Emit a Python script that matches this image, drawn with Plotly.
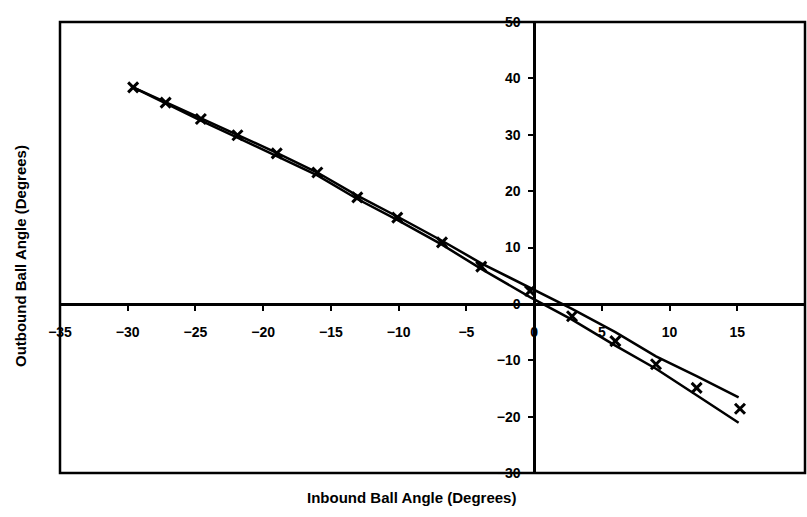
import plotly.graph_objects as go

# Measured data (markers)
meas_x = [-29.6, -27.2, -24.6, -21.9, -19.0, -16.0, -13.05, -10.1, -6.8, -3.9, -0.3, 2.8, 6.0, 9.0, 12.0, 15.2]
meas_y = [38.4, 35.7, 32.8, 29.9, 26.7, 23.3, 18.9, 15.3, 10.9, 6.6, 2.3, -2.2, -6.6, -10.7, -14.9, -18.6]

# Model curves
line_x = [-29.6, -27.2, -24.6, -21.9, -19.0, -16.0, -13.05, -10.1, -6.8, -3.9, -0.3, 2.8, 6.0, 9.0, 12.0, 15.1]
upper_y = [38.4, 35.8, 32.9, 30.0, 26.8, 23.3, 19.2, 15.5, 11.2, 7.2, 2.9, -0.9, -5.0, -9.3, -12.8, -16.6]
lower_y = [38.4, 35.5, 32.5, 29.5, 26.2, 22.8, 18.6, 14.9, 10.5, 6.2, 1.2, -2.8, -7.4, -11.5, -16.2, -21.1]

x_range = [-35, 20]
y_range = [-30, 50]
x_ticks = [-35, -30, -25, -20, -15, -10, -5, 0, 5, 10, 15, 20]
y_ticks = [-30, -20, -10, 0, 10, 20, 30, 40, 50]

x_title = "Inbound Ball Angle (Degrees)"
y_title = "Outbound Ball Angle (Degrees)"

FONT = "Liberation Sans, Arial, sans-serif"

fig = go.Figure()
fig.add_trace(go.Scatter(x=line_x, y=upper_y, mode="lines",
                         line=dict(color="black", width=2.5), showlegend=False))
fig.add_trace(go.Scatter(x=line_x, y=lower_y, mode="lines",
                         line=dict(color="black", width=2.5), showlegend=False))
fig.add_trace(go.Scatter(x=meas_x, y=meas_y, mode="markers",
                         marker=dict(symbol="x-thin", size=10, color="black",
                                     line=dict(color="black", width=3)),
                         showlegend=False))

tickfont = dict(family=FONT, size=14, color="black", weight="bold")

fig.update_layout(
    width=807, height=517,
    margin=dict(l=60, r=2, t=22, b=44),
    paper_bgcolor="white", plot_bgcolor="white",
    xaxis=dict(range=x_range, tickvals=x_ticks, anchor="free",
               position=(0 - y_range[0]) / (y_range[1] - y_range[0]),
               showline=True, linecolor="black", linewidth=2.5,
               ticks="outside", ticklen=5, tickwidth=1.5, tickcolor="black",
               showgrid=False, zeroline=False, tickfont=tickfont,
               ticklabelstandoff=10),
    yaxis=dict(range=y_range, tickvals=y_ticks, anchor="free",
               position=(0 - x_range[0]) / (x_range[1] - x_range[0]),
               showline=True, linecolor="black", linewidth=2.5,
               ticks="outside", ticklen=5, tickwidth=1.5, tickcolor="black",
               showgrid=False, zeroline=False, tickfont=tickfont,
               ticklabelstandoff=5),
    shapes=[dict(type="rect", xref="paper", yref="paper", x0=0, x1=1, y0=0, y1=1,
                 line=dict(color="black", width=2.5), layer="above")],
    annotations=[
        dict(text=x_title, xref="paper", yref="paper", x=0.472, y=-0.03,
             xanchor="center", yanchor="top", showarrow=False,
             font=dict(family=FONT, size=15, color="black", weight="bold")),
        dict(text=y_title, xref="paper", yref="paper", x=-0.053, y=0.48,
             xanchor="center", yanchor="middle", showarrow=False, textangle=-90,
             font=dict(family=FONT, size=15, color="black", weight="bold")),
    ],
)

fig.write_html("out.html")
